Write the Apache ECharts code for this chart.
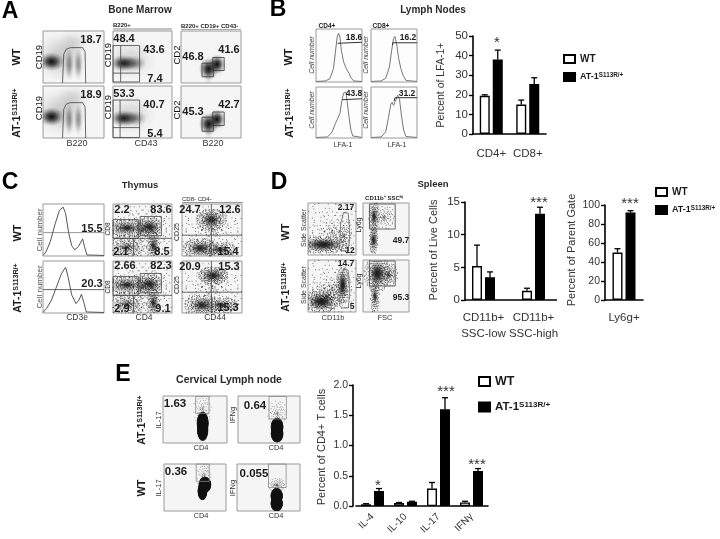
<!DOCTYPE html>
<html><head><meta charset="utf-8">
<style>html,body{margin:0;padding:0;background:#fff}#c{width:720px;height:539px}</style>
<script src="https://cdn.jsdelivr.net/npm/echarts@6/dist/echarts.min.js"></script>
</head><body><div id="c"></div>
<script>
// ---------- bar chart values ----------
const bCats=['CD4+','CD8+'];
const bWT=[19.5,15], bWTerr=[0.5,2.3], bAT=[38,25.5], bATerr=[4.8,3.2];
const d1Cats=['CD11b+\nSSC-low','CD11b+\nSSC-high'];
const d1WT=[5.2,1.4], d1WTerr=[3.2,0.4], d1AT=[3.5,13.2], d1ATerr=[0.8,1.0];
const d2Cats=['Ly6g+'];
const d2WT=[50], d2WTerr=[4], d2AT=[92], d2ATerr=[2];
const eCats=['IL-4','IL-10','IL-17','IFNγ'];
const eWT=[0.03,0.05,0.29,0.06], eWTerr=[0.01,0.01,0.1,0.02];
const eAT=[0.25,0.07,1.6,0.58], eATerr=[0.04,0.01,0.19,0.04];
const WT='WT', AT='AT-1S113R/+';

// ---------- histogram traces (x %, y %) ----------
const histB1=[[0,1],[20,2],[30,6],[38,25],[42,55],[46,85],[49,92],[52,85],[55,60],[60,38],[66,25],[72,16],[76,8],[82,2],[100,1]];
const histB2=[[0,1],[22,2],[32,7],[40,28],[45,60],[49,82],[52,86],[56,70],[60,45],[65,25],[70,12],[76,3],[100,1]];
const histB3=[[0,1],[25,2],[35,12],[42,28],[47,38],[52,48],[56,72],[60,88],[65,90],[68,70],[72,40],[76,15],[80,4],[100,1]];
const histB4=[[0,1],[22,2],[32,12],[38,40],[43,66],[46,70],[49,64],[53,72],[58,84],[62,76],[66,45],[71,15],[76,3],[100,1]];
const histC1=[[0,1],[5,8],[12,28],[20,62],[27,88],[33,94],[37,82],[42,45],[47,20],[52,12],[58,18],[65,33],[68,18],[72,2],[100,1]];
const histC2=[[0,1],[6,9],[14,25],[22,50],[30,75],[37,88],[41,70],[47,35],[54,18],[59,25],[63,36],[67,20],[71,2],[100,1]];
const cutC1=[[0,45],[100,45]], cutC2=[[0,45],[100,45]];

// ---------- density blobs [x%, y%, w%, h%, darkness, hardness, rotation] ----------
const blobA1=[[30,50,90,95,.2,0,0],[50,78,55,50,.12,0,0],[14,41,42,36,1,0,0],[43,36,15,62,.42,0,0],[58,36,15,62,.42,0,0]];
const blobA2=[[30,45,90,80,.14,0,0],[36,38,42,30,.5,0,0],[18,38,46,32,.95,0,0]];
const blobA3=[[46,14,16,40,.15,0,0],[52,30,50,50,.1,0,0],[46,27,32,42,1,0,0],[60,36,28,38,1,0,0]];
const blobC2=[[25,17,56,34,.16,0,0],[22,54,50,24,.42,0,0],[62,55,36,30,.7,0,0],[69,20,16,44,.5,0,0]];
const blobC3a=[[49,70,32,32,.65,0,0],[30,15,36,28,.6,0,0],[63,12,32,22,.3,0,0]];
const blobC3b=[[52,72,34,26,.65,0,0],[33,15,38,30,.6,0,0],[66,15,32,22,.3,0,0]];
const blobD1a=[[32,20,82,28,.95,0,0]];
const blobD1b=[[28,20,56,32,.95,0,0],[72,52,20,56,.9,0,0]];
const blobD2a=[[24,74,14,46,.55,0,0],[23,29,16,36,.5,0,0]];
const blobD2b=[[31,74,38,52,.95,0,0],[26,30,12,42,.22,0,0]];
const blobE1=[[62,42,20,52,1,.8,0],[62,28,19,50,1,.8,0]];
const blobE2=[[63,34,22,42,1,.8,0],[63,20,22,40,1,.8,0]];
const blobE3=[[66,56,22,36,1,.8,0],[62,42,17,40,1,.8,0]];
const blobE4=[[63,32,21,36,1,.8,0],[63,16,21,36,1,.8,0]];

// ---------- dot clusters [x%, y%, spreadX, spreadY, mirrors used] ----------
const dotC2a=[[50,50,70,70,4],[24,54,32,18,4],[62,56,22,20,3],[68,20,12,30,2],[24,17,32,26,3]];
const dotC2b=[[50,50,70,70,4],[24,54,32,18,4],[62,56,22,20,3],[68,20,12,30,2],[24,17,32,26,3]];
const dotC3a=[[50,50,75,70,3],[49,70,26,22,4],[30,15,30,20,4],[63,12,30,16,3]];
const dotC3b=[[50,50,75,70,3],[52,72,26,18,4],[33,15,30,22,4],[66,15,30,16,3]];
const dotD1a=[[50,45,70,70,3],[32,20,52,18,4],[75,35,16,34,1]];
const dotD1b=[[50,45,70,70,3],[28,20,36,22,4],[72,52,14,38,3],[40,30,40,26,2]];
const dotD2a=[[24,74,12,32,2],[23,29,10,28,2],[45,72,26,24,1]];
const dotD2b=[[31,74,30,36,4],[26,30,10,36,2],[55,72,22,24,2]];
const dotE1=[[62,72,15,42,1]];
const dotE2=[[63,62,16,30,1]];
const dotE3=[[65,74,12,38,1]];
const dotE4=[[63,55,14,16,1]];
const speckle=[[.12,.31],[-.45,.08],[.67,-.22],[-.18,-.64],[.33,.72],[-.81,.27],[.05,-.12],[.54,.41],[-.29,.53],[.92,.11],[-.62,-.37],[.21,-.88],[-.07,.19],[.41,-.49],[-.95,-.15],[.74,.63],[-.36,-.02],[.16,.04],[-.53,.77],[.28,-.27],[.83,-.71],[-.14,.92],[.49,.17],[-.72,-.58],[.09,-.41],[-.24,.36],[.61,.29],[-.41,-.81],[.37,.55],[-.88,.49],[.02,.67],[.78,-.38],[-.11,-.29],[.25,.13],[-.57,.21],[.46,-.12],[-.33,.64],[.97,.43],[-.69,.03],[.14,-.58],[-.03,.45],[.58,-.66],[-.48,-.23],[.31,.88],[-.77,.69],[.19,-.17],[-.21,-.47],[.69,.07],[-.39,.14],[.08,.24],[.43,.36],[-.59,-.72],[.86,-.05],[-.16,.11],[.23,-.73],[-.66,.42],[.52,.82],[-.01,-.37],[.35,-.04],[-.84,-.42],[.72,.35],[-.27,-.11],[.11,.58],[-.51,-.06],[.39,-.91],[-.09,.74],[.63,-.31],[-.44,.39],[.17,-.21],[-.75,.13],[.06,.09],[.47,.61],[-.31,-.55],[.81,.24],[-.19,.28],[.27,.44],[-.63,-.19],[.56,-.09],[-.12,-.83],[.34,-.36],[-.91,.31],[.13,.83],[-.38,.01],[.65,.52],[-.05,-.05],[.44,-.6],[-.55,.58],[.22,.22],[-.26,-.36],[.76,-.52]];

// ---------- gates ----------
const rect=(a,b,c,d)=>[[a,b],[c,b],[c,d],[a,d],[a,b]];
const gateA1=[[32,0],[34,55],[38,65],[45,68],[65,68],[69,60],[70,0]];
const gateA2a=[rect(0,2,45,72),[[13,2],[13,72]],[[0,19],[45,19]]];
const gateA2b=[rect(0,1,45,73),[[12,1],[12,73]],[[0,20],[45,20]]];
const gateA3a=[rect(35,12,54,38),rect(53,24,72,49)];
const gateA3b=[rect(35,13,54,40),rect(53,24,72,50)];
const gateH1=[[47,73],[47,75],[100,75]], gateH2=[[47,70],[47,74],[100,74]];
const gateH3=[[57,75],[60,77],[100,77]], gateH4=[[50,72],[52,79],[100,79]];
const gateC2=[rect(0,34,43,70),rect(46,39,82,76),[[0,34],[100,34]],[[35,0],[35,34]]];
const quadC3=[[[49,0],[49,100]],[[0,40],[100,40]]];
const gateD1=[[66,12],[70,8],[84,8],[87,40],[84,80],[74,82],[68,60],[66,12]];
const gateD2=[rect(14,50,70,98)];
const gateE1=rect(51,63,72,99), gateE2=rect(50,51,78,99), gateE3=rect(52,63,73,100), gateE4=rect(50,50,78,100);

// ---------- ECharts scaffolding ----------
const grids=[],xAxes=[],yAxes=[],series=[],graphic=[];
const ink='#1c1c1c';
function panel(x,y,w,h,bg){
  const i=grids.length;
  grids.push({left:x,top:y,width:w,height:h,show:true,backgroundColor:bg||'#f5f5f5',borderColor:'#9a9a9a',borderWidth:1});
  const ax={type:'value',min:0,max:100,show:false};
  xAxes.push({...ax,gridIndex:i}); yAxes.push({...ax,gridIndex:i});
  return i;
}
function blobs(i,list){
  series.push({type:'custom',xAxisIndex:i,yAxisIndex:i,clip:true,silent:true,
    data:list,
    renderItem(p,api){
      const c=api.coord([api.value(0),api.value(1)]);
      const w=api.size([api.value(2),0])[0], h=api.size([0,api.value(3)])[1];
      const a=api.value(4), hard=api.value(5)||0;
      const k=n=>`rgba(15,15,15,${n})`;
      const grad=new echarts.graphic.RadialGradient(.5,.5,.5,[
        {offset:0,color:k(a)},{offset:Math.max(hard,.35),color:k(hard?a:a*.72)},{offset:hard?Math.min(.95,hard+.1):.7,color:k(hard?a*.9:a*.25)},{offset:1,color:k(0)}]);
      return {type:'circle',x:c[0],y:c[1],scaleX:w/100,scaleY:h/100,rotation:api.value(6)||0,
        shape:{cx:0,cy:0,r:50},style:{fill:grad}};
    }});
}
const mirrors=[[1,1],[-1,-1],[1,-1],[-1,1]];
function dots(i,list,op){
  const pts=[];
  list.forEach(c=>{mirrors.slice(0,c[4]||4).forEach(m=>speckle.forEach(o=>{
    const len=Math.hypot(o[0],o[1]); if(len>1)return;
    const f=Math.sqrt(len);
    const x=c[0]+o[0]*f*m[0]*c[2],y=c[1]+o[1]*f*m[1]*c[3];
    if(x>0&&x<100&&y>0&&y<100)pts.push([x,y]);
  }));});
  series.push({type:'scatter',xAxisIndex:i,yAxisIndex:i,data:pts,symbolSize:1,silent:true,itemStyle:{color:'#222',opacity:op||.75}});
}
function path(i,pts,color,width){
  series.push({type:'line',xAxisIndex:i,yAxisIndex:i,data:pts,showSymbol:false,symbol:'none',silent:true,clip:false,
    lineStyle:{color:color||'#555',width:width||.8}});
}
function T(x,y,text,o){
  o=o||{};
  graphic.push({type:'text',x,y,rotation:o.rot?Math.PI/2:0,silent:true,z:50,
    style:{text,align:o.align||'center',verticalAlign:'middle',fill:o.fill||ink,
      font:`${o.italic?'italic ':''}${o.bold?'bold ':''}${o.size||9}px "Liberation Sans"`,rich:o.rich}});
}
const num=(x,y,t,s)=>T(x,y,t,{bold:true,size:s||11});
const head=(x,y,t,s)=>T(x,y,t,{bold:true,size:s||9.5,fill:'#2a2a2a'});
function atLabel(x,y,s){
  T(x,y,'{b|AT-1}{s|S113R/+}',{rot:true,rich:{b:{font:`bold ${s}px "Liberation Sans"`,fill:ink},s:{font:`bold ${s*.68}px "Liberation Sans"`,fill:ink,verticalAlign:'top'}}});
}
function barChart(c){
  const i=grids.length;
  grids.push({left:c.left,top:c.top,width:c.width,height:c.height,containLabel:false});
  xAxes.push({gridIndex:i,type:'category',data:c.cats,
    axisLine:{show:!c.hideBase,lineStyle:{color:'#000',width:1.6}},axisTick:{show:false},
    axisLabel:{color:'#333',fontFamily:'Liberation Sans',fontSize:c.catSize||11.5,margin:c.margin||12,lineHeight:16,rotate:c.rotate||0,interval:0}});
  yAxes.push({gridIndex:i,type:'value',min:0,max:c.max,interval:c.interval,offset:c.offset||0,splitLine:{show:false},
    axisLine:{show:true,lineStyle:{color:'#000',width:1.6}},axisTick:{show:true,length:4,lineStyle:{color:'#000',width:1.4}},
    axisLabel:{color:'#333',fontFamily:'Liberation Sans',fontSize:c.tickSize||11.5,margin:5,formatter:c.fmt}});
  const off=(c.barW+3)/2;
  series.push({type:'bar',name:WT,xAxisIndex:i,yAxisIndex:i,data:c.wt,barWidth:c.barW,barGap:'30%',silent:true,itemStyle:{color:'#fff',borderColor:'#000',borderWidth:1.4}});
  series.push({type:'bar',name:AT,xAxisIndex:i,yAxisIndex:i,data:c.at,barWidth:c.barW,barGap:'30%',silent:true,itemStyle:{color:'#000',borderColor:'#000',borderWidth:1.4}});
  [[c.wt,c.wtErr,-off],[c.at,c.atErr,off]].forEach(([v,e,dx],k)=>{
    series.push({type:'custom',name:(k?AT:WT)+' error',xAxisIndex:i,yAxisIndex:i,silent:true,z:3,
      data:v.map((y,n)=>[n,y,y+e[n]]),
      renderItem(p,api){
        const a=api.coord([api.value(0),api.value(1)]),b=api.coord([api.value(0),api.value(2)]);
        const s={stroke:'#000',lineWidth:1.3};
        return {type:'group',children:[
          {type:'line',shape:{x1:a[0]+dx,y1:a[1],x2:b[0]+dx,y2:b[1]},style:s},
          {type:'line',shape:{x1:b[0]+dx-3,y1:b[1],x2:b[0]+dx+3,y2:b[1]},style:s}]};
      }});
  });
}
function legend(x,y,gap,s,w,h){
  return {left:x,top:y,padding:0,orient:'vertical',itemGap:gap,itemWidth:w,itemHeight:h,selectedMode:false,data:[WT,AT],icon:'rect',
    formatter:n=>n===WT?`{w|WT}`:`{b|AT-1}{s|S113R/+}`,
    textStyle:{rich:{w:{fontFamily:'Liberation Sans',fontWeight:'bold',fontSize:s+1,color:ink},
      b:{fontFamily:'Liberation Sans',fontWeight:'bold',fontSize:s,color:ink},
      s:{fontFamily:'Liberation Sans',fontWeight:'bold',fontSize:s*.7,color:ink,verticalAlign:'top'}}}};
}

// ---------- Panel A ----------
T(10,12,'A',{bold:true,size:23,fill:'#000'}); head(140,10,'Bone Marrow',10);
T(17,57,'WT',{rot:true,bold:true,size:11}); atLabel(17,113,10.5);
[[31,52,blobA1,gateA1,blobA2,gateA2a,blobA3,gateA3a],[86,52,blobA1,gateA1,blobA2,gateA2b,blobA3,gateA3b]].forEach(r=>{
  let p=panel(43,r[0],61,r[1]); blobs(p,r[2]); path(p,r[3],'#444');
  p=panel(113,r[0],59,r[1]); blobs(p,r[4]); r[5].forEach(g=>path(p,g,'#444'));
  p=panel(181,r[0],60,r[1]); blobs(p,r[6]); r[7].forEach(g=>path(p,g,'#333'));
});
[[39,57],[39,108],[108,55],[108,107]].forEach(a=>T(a[0],a[1],'CD19',{rot:true,size:9.5,fill:'#111'}));
[[177,55],[177,110]].forEach(a=>T(a[0],a[1],'CD2',{rot:true,size:9.5,fill:'#111'}));
[[91,40,'18.7'],[91,95,'18.9'],[124,39,'48.4'],[154,50,'43.6'],[155,79,'7.4'],[124,94,'53.3'],[154,105,'40.7'],[155,134,'5.4'],[193,57,'46.8'],[229,50,'41.6'],[193,112,'45.3'],[229,105,'42.7']].forEach(a=>num(a[0],a[1],a[2]));
[[77,'B220'],[146,'CD43'],[213,'B220']].forEach(a=>T(a[0],144,a[1],{size:9,fill:'#333'}));
T(113,25,'B220+',{align:'left',size:6,bold:true}); T(181,26,'B220+ CD19+ CD43-',{align:'left',size:6,bold:true});
graphic.push({type:'rect',shape:{x:113,y:28,width:59,height:3},style:{fill:'#c4c4c4'},silent:true});
graphic.push({type:'line',shape:{x1:181,y1:29.5,x2:241,y2:29.5},style:{stroke:'#aaa',lineWidth:1},silent:true});

// ---------- Panel B ----------
T(278,10,'B',{bold:true,size:23,fill:'#000'}); head(433,10,'Lymph Nodes',10);
T(289,57,'WT',{rot:true,bold:true,size:11}); atLabel(290,113,10.5);
[[316,29,53,histB1,gateH1],[371,29,53,histB2,gateH2],[316,87,51,histB3,gateH3],[371,87,51,histB4,gateH4]].forEach(r=>{
  const p=panel(r[0],r[1],46,r[2],'#fdfdfd'); path(p,r[3],'#777',1); path(p,r[4],'#333',1);
});
[[312,55],[366,55],[312,110],[366,110]].forEach(a=>T(a[0],a[1],'Cell number',{rot:true,size:7,italic:true,fill:'#444'}));
[[354,38,'18.6'],[408,38,'16.2'],[354,94,'43.8'],[407,94,'31.2']].forEach(a=>num(a[0],a[1],a[2],8.5));
T(327,26,'CD4+',{size:6.5,bold:true}); T(381,26,'CD8+',{size:6.5,bold:true});
T(343,145,'LFA-1',{size:7,fill:'#333'}); T(397,145,'LFA-1',{size:7,fill:'#333'});
barChart({left:473,top:36,width:73,height:98,cats:bCats,wt:bWT,at:bAT,wtErr:bWTerr,atErr:bATerr,max:50,interval:10,barW:10});
T(441,85,'Percent of LFA-1+',{rot:true,size:10.5,fill:'#333'});
T(497,43,'*',{size:15,fill:'#333'});

// ---------- Panel C ----------
T(10,183,'C',{bold:true,size:23,fill:'#000'}); head(140,185,'Thymus',9.5);
T(18,233,'WT',{rot:true,bold:true,size:11}); atLabel(18,288,10.5);
[[204,52,histC1,cutC1,'#999',blobC2,dotC2a,blobC3a,dotC3a],[261,52,histC2,cutC2,'#666',blobC2,dotC2b,blobC3b,dotC3b]].forEach(r=>{
  let p=panel(43,r[0],61,r[1],'#fff'); path(p,r[3],r[4],1); path(p,r[2],'#555',1);
  p=panel(113,r[0],59,r[1]); blobs(p,r[5]); dots(p,r[6]); gateC2.forEach(g=>path(p,g,'#444'));
  p=panel(182,r[0],60,r[1]); blobs(p,r[7]); dots(p,r[8]); quadC3.forEach(g=>path(p,g,'#444'));
});
T(40,230,'Cell number',{rot:true,size:8,fill:'#555'}); T(40,287,'Cell number',{rot:true,size:8,fill:'#555'});
T(108,229,'CD8',{rot:true,size:6.5}); T(108,287,'CD8',{rot:true,size:6.5});
T(177,232,'CD25',{rot:true,size:7}); T(177,285,'CD25',{rot:true,size:7});
[[92,229,'15.5'],[92,284,'20.3'],[122,210,'2.2'],[161,210,'83.6'],[121,252,'2.1'],[162,252,'8.5'],[125,266,'2.66'],[161,266,'82.3'],[122,309,'2.9'],[163,309,'9.1'],[190,210,'24.7'],[230,210,'12.6'],[228,252,'15.4'],[190,267,'20.9'],[229,267,'15.3'],[228,308,'15.3']].forEach(a=>num(a[0],a[1],a[2]));
[[77,'CD3e'],[144,'CD4'],[215,'CD44']].forEach(a=>T(a[0],318,a[1],{size:8.5,fill:'#333'}));
T(182,199,'CD8- CD4-',{align:'left',size:6});
graphic.push({type:'line',shape:{x1:182,y1:202.5,x2:243,y2:202.5},style:{stroke:'#999',lineWidth:1},silent:true});

// ---------- Panel D ----------
T(279,183,'D',{bold:true,size:23,fill:'#000'}); head(433,184,'Spleen',9.5);
T(286,232,'WT',{rot:true,bold:true,size:11}); atLabel(286,287,10.5);
[[203,52,blobD1a,dotD1a,blobD2a,dotD2a],[260,52,blobD1b,dotD1b,blobD2b,dotD2b]].forEach(r=>{
  let p=panel(308,r[0],48,r[1]); blobs(p,r[2]); dots(p,r[3]); path(p,gateD1,'#666');
  p=panel(363,r[0],46,r[1]); blobs(p,r[4]); dots(p,r[5]); gateD2.forEach(g=>path(p,g,'#444'));
});
T(304,228,'Side Scatter',{rot:true,size:7,fill:'#333'}); T(304,285,'Side Scatter',{rot:true,size:7,fill:'#333'});
T(359,225,'Ly6g',{rot:true,size:7}); T(359,281,'Ly6g',{rot:true,size:7});
T(384,198,'CD11b⁺ SSCʰⁱ',{size:6,bold:true});
[[346,208,'2.17'],[350,251,'12'],[346,264,'14.7'],[352,307,'5'],[401,241,'49.7'],[401,298,'95.3']].forEach(a=>num(a[0],a[1],a[2],8.5));
T(333,318,'CD11b',{size:7.5,fill:'#333'}); T(385,318,'FSC',{size:7.5,fill:'#333'});
barChart({left:458.5,top:202,width:100,height:98,cats:d1Cats,wt:d1WT,at:d1AT,wtErr:d1WTerr,atErr:d1ATerr,max:15,interval:5,barW:10,offset:-6.5,hideBase:true,margin:10});
graphic.push({type:'line',shape:{x1:465,y1:300,x2:557,y2:300},style:{stroke:'#000',lineWidth:1.6},silent:true});
barChart({left:605,top:205,width:38,height:95,cats:d2Cats,wt:d2WT,at:d2AT,wtErr:d2WTerr,atErr:d2ATerr,max:100,interval:20,barW:10,margin:10,tickSize:10.5});
T(434,250,'Percent of Live Cells',{rot:true,size:11,fill:'#333'});
T(572,250,'Percent of Parent Gate',{rot:true,size:11,fill:'#333'});
T(539,203,'***',{size:15,fill:'#333'}); T(630,204,'***',{size:15,fill:'#333'});

// ---------- Panel E ----------
T(123,375,'E',{bold:true,size:23,fill:'#000'}); head(229,380,'Cervical Lymph node',10.5);
atLabel(142,420,10.5); T(142,488,'WT',{rot:true,bold:true,size:11});
[[163,396,64,47,blobE1,dotE1,gateE1],[238,396,62,47,blobE2,dotE2,gateE2],[164,464,62,47,blobE3,dotE3,gateE3],[237,464,63,47,blobE4,dotE4,gateE4]].forEach(r=>{
  const p=panel(r[0],r[1],r[2],r[3]); blobs(p,r[4]); dots(p,r[5],.5); path(p,r[6],'#888');
});
[[175,404,'1.63'],[255,406,'0.64'],[176,472,'0.36'],[254,474,'0.055']].forEach(a=>num(a[0],a[1],a[2],11.5));
[[159,420,'IL-17'],[233,415,'IFNg'],[159,488,'IL-17'],[233,488,'IFNg']].forEach(a=>T(a[0],a[1],a[2],{rot:true,size:7.5,fill:'#333'}));
[[201,448],[276,448],[201,516],[276,516]].forEach(a=>T(a[0],a[1],'CD4',{size:7.5,fill:'#333'}));
barChart({left:356,top:385,width:132,height:125,cats:eCats,wt:eWT,at:eAT,wtErr:eWTerr,atErr:eATerr,max:2,interval:.5,barW:10,offset:3,rotate:45,catSize:10,margin:9,tickSize:10.5,fmt:v=>v.toFixed(1)});
T(322,447,'Percent of CD4+ T cells',{rot:true,size:11,fill:'#333'});
T(378,486,'*',{size:15,fill:'#333'}); T(446,392,'***',{size:15,fill:'#333'}); T(477,465,'***',{size:15,fill:'#333'});

// ---------- Render ----------
const chart=echarts.init(document.getElementById('c'),null,{renderer:'canvas'});
chart.setOption({animation:false,backgroundColor:'#fff',grid:grids,xAxis:xAxes,yAxis:yAxes,series,graphic,
  legend:[legend(563,54,8,9,11,8),legend(655,187,8,9,11,8),legend(478,375,13,11.5,11,9)]});
</script></body></html>
